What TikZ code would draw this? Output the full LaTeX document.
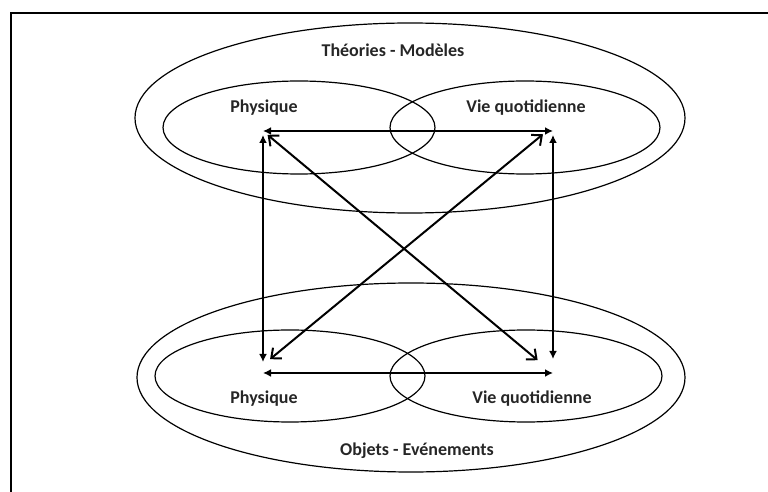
\documentclass[tikz,border=0pt]{standalone}
\usepackage{fontspec}
\setmainfont{Carlito}
\usetikzlibrary{shapes.geometric,arrows.meta}

\begin{document}
\begin{tikzpicture}[x=0.5pt,y=-0.5pt,
  zone/.style={ellipse,draw,line width=0.6pt,inner sep=0pt},
  lab/.style={font=\bfseries\fontsize{9}{10}\selectfont,text=black!85,inner sep=0pt},
  lien/.style={line width=1pt,{Latex[length=4pt,width=4pt]}-{Latex[length=4pt,width=4pt]}},
  croix/.style={line width=1pt,{Straight Barb[length=4pt,width=7pt]}-{Straight Barb[length=4pt,width=7pt]}}]
  \useasboundingbox (0,0) rectangle (768,492);
  \draw[line width=1.2pt] (11,492) -- (11,13) -- (768,13);

  \node[zone,minimum width=275pt,minimum height=95pt] (theo) at (410,118) {};
  \node[zone,minimum width=136pt,minimum height=46.5pt] (phyT) at (299,127.5) {};
  \node[zone,minimum width=135pt,minimum height=46.5pt] (vieT) at (525,127.5) {};

  \node[zone,minimum width=274pt,minimum height=94.5pt] (obj) at (411,377.5) {};
  \node[zone,minimum width=135pt,minimum height=46pt] (phyO) at (290,376) {};
  \node[zone,minimum width=136pt,minimum height=46pt] (vieO) at (526,376) {};

  \node[lab] (ltheo) at (393,50) {Théories - Modèles};
  \node[lab] (lphyT) at (264,108) {Physique};
  \node[lab] (lvieT) at (526,108) {Vie quotidienne};
  \node[lab] (lphyO) at (264,399) {Physique};
  \node[lab] (lvieO) at (532,399) {Vie quotidienne};
  \node[lab] (lobj) at (417,451) {Objets - Evénements};

  \coordinate (a) at (263,131);
  \coordinate (b) at (553,131);
  \coordinate (c) at (263,373);
  \coordinate (d) at (553,373);

  \draw[lien] (a) -- (b);
  \draw[lien] (c) -- (d);
  \draw[lien,shorten <=2pt,shorten >=5.5pt] (a) -- (c);
  \draw[lien,shorten <=2pt,shorten >=7pt] (b) -- (d);
  \draw[croix,shorten <=3pt,shorten >=10pt] (a) -- (d);
  \draw[croix,shorten <=6.5pt,shorten >=4.6pt] ([yshift=2.5pt]b) -- ([yshift=4pt]c);
\end{tikzpicture}
\end{document}
